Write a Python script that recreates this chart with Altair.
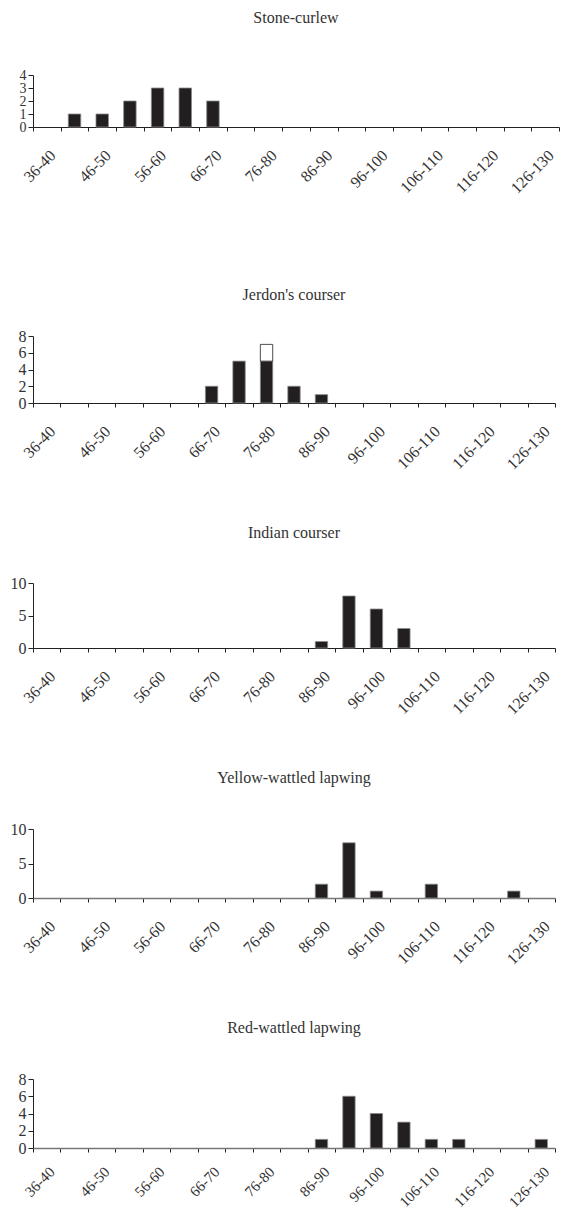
import altair as alt
import pandas as pd

categories = ["36-40", "41-45", "46-50", "51-55", "56-60", "61-65", "66-70", "71-75",
              "76-80", "81-85", "86-90", "91-95", "96-100", "101-105", "106-110",
              "111-115", "116-120", "121-125", "126-130"]
shown_labels = categories[::2]

stone_curlew = [0, 1, 1, 2, 3, 3, 2, 0, 0, 0, 0, 0, 0, 0, 0, 0, 0, 0, 0]
jerdons_black = [0, 0, 0, 0, 0, 0, 2, 5, 5, 2, 1, 0, 0, 0, 0, 0, 0, 0, 0]
jerdons_white = [0, 0, 0, 0, 0, 0, 0, 0, 2, 0, 0, 0, 0, 0, 0, 0, 0, 0, 0]
indian_courser = [0, 0, 0, 0, 0, 0, 0, 0, 0, 0, 1, 8, 6, 3, 0, 0, 0, 0, 0]
yellow_wattled = [0, 0, 0, 0, 0, 0, 0, 0, 0, 0, 2, 8, 1, 0, 2, 0, 0, 1, 0]
red_wattled = [0, 0, 0, 0, 0, 0, 0, 0, 0, 0, 1, 6, 4, 3, 1, 1, 0, 0, 1]

FONT = "Liberation Serif"
TXT = "#333333"
label_list = "[" + ",".join("'" + s + "'" for s in shown_labels) + "]"


def panel(title, series, height, ymax, ystep, width=522, title_offset=30,
          domain_color="#222222", domain_width=1.0, ylab=16, xlab=16, xpad=16):
    rows = []
    for part, vals in series:
        for i, (c, v) in enumerate(zip(categories, vals)):
            if v > 0:
                rows.append({"cat": c, "count": v, "part": part,
                             "ord": 0 if part == "black" else 1})
    df = pd.DataFrame(rows)
    x = alt.X("cat:N", scale=alt.Scale(domain=categories, paddingInner=0, paddingOuter=0),
              sort=categories,
              axis=alt.Axis(title=None, tickBand="extent", labelAngle=315, labelAlign="right",
                            labelBaseline="top", labelPadding=xpad, tickSize=4,
                            labelOverlap=False, labelFontSize=xlab, labelFont=FONT,
                            labelColor=TXT, domainColor=domain_color,
                            domainWidth=domain_width, tickColor="#222222",
                            labelExpr="indexof(" + label_list + ", datum.value) >= 0 ? datum.label : ''"))
    y = alt.Y("count:Q", stack="zero",
              scale=alt.Scale(domain=[0, ymax], nice=False),
              axis=alt.Axis(title=None, values=list(range(0, ymax + 1, ystep)), grid=False,
                            tickSize=5, labelFontSize=ylab, labelFont=FONT, labelColor=TXT,
                            labelOverlap=False, labelBound=False,
                            domainColor="#222222", tickColor="#222222", labelPadding=2))
    color = alt.Color("part:N", scale=alt.Scale(domain=["black", "white"],
                                                range=["#231f20", "#ffffff"]), legend=None)
    stroke = alt.Stroke("part:N", scale=alt.Scale(domain=["black", "white"],
                                                  range=["#8a8a8a", "#231f20"]), legend=None)
    return alt.Chart(df).mark_bar(width=alt.RelativeBandSize(0.45), strokeWidth=0.8).encode(
        x=x, y=y, color=color, stroke=stroke, order=alt.Order("ord:Q")
    ).properties(
        width=width, height=height,
        title=alt.TitleParams(title, fontSize=16, font=FONT, fontWeight="normal",
                              color=TXT, offset=title_offset, anchor="middle")
    )


p1 = panel("Stone-curlew", [("black", stone_curlew)], 52, 4, 1, width=526, title_offset=42,
           ylab=14)
p2 = panel("Jerdon's courser", [("black", jerdons_black), ("white", jerdons_white)], 67, 8, 2,
           title_offset=25)
p3 = panel("Indian courser", [("black", indian_courser)], 65, 10, 5, title_offset=34)
p4 = panel("Yellow-wattled lapwing", [("black", yellow_wattled)], 69, 10, 5, title_offset=35,
           domain_color="#777777", domain_width=1.6)
p5 = panel("Red-wattled lapwing", [("black", red_wattled)], 69, 8, 2, title_offset=35,
           domain_color="#777777", domain_width=1.6, xlab=15, xpad=12)

inner = alt.vconcat(p2, p3, p4, p5, spacing=52)
chart = alt.vconcat(p1, inner, spacing=90).properties(
    padding={"left": 2, "top": 2, "right": 0, "bottom": 0}
).configure(font=FONT, background="white").configure_view(strokeWidth=0, stroke="transparent")

chart.save("out.html", embed_options={"renderer": "svg", "actions": False})
